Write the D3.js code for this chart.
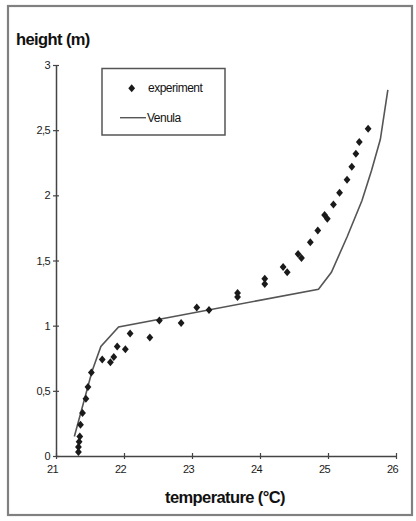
<!DOCTYPE html>
<html><head><meta charset="utf-8">
<script src="https://cdn.jsdelivr.net/npm/d3@7"></script>
<style>
html,body{margin:0;padding:0;background:#fff;}
svg{display:block;}
text{font-family:"Liberation Sans",Arial,sans-serif;}
</style></head>
<body><svg id="c" width="416" height="521"></svg>
<script>
// ---- data ----
const expTemp = [21.33,21.33,21.34,21.35,21.36,21.39,21.44,21.47,21.52,21.68,21.80,21.85,21.90,22.02,22.09,22.38,22.52,22.84,23.07,23.25,23.67,23.67,24.07,24.07,24.34,24.40,24.56,24.61,24.74,24.85,24.95,24.99,25.08,25.17,25.28,25.35,25.41,25.46,25.59];
const expHeight = [0.03,0.07,0.11,0.15,0.24,0.33,0.44,0.53,0.64,0.74,0.72,0.76,0.84,0.82,0.94,0.91,1.04,1.02,1.14,1.12,1.25,1.22,1.36,1.32,1.45,1.41,1.55,1.52,1.64,1.73,1.85,1.82,1.93,2.02,2.12,2.22,2.32,2.41,2.51];
const venTemp = [21.27,21.53,21.66,21.92,24.86,25.05,25.28,25.50,25.64,25.77,25.88];
const venHeight = [0.15,0.65,0.84,0.99,1.28,1.41,1.68,1.96,2.19,2.43,2.81];
const xTicks = [21,22,23,24,25,26];
const yTicks = [0,0.5,1,1.5,2,2.5,3];
const yTickLabels = ["0","0,5","1","1,5","2","2,5","3"];
const seriesNames = ["experiment","Venula"];
const xTitle = "temperature (°C)";
const yTitle = "height (m)";

const svg = d3.select("#c");
// outer frame
svg.append("rect").attr("x",8).attr("y",6).attr("width",404).attr("height",509)
  .attr("fill","#fff").attr("stroke","#808080").attr("stroke-width",2.2);

const x = d3.scaleLinear().domain([21,26]).range([56,396]);
const y = d3.scaleLinear().domain([0,3]).range([456,65]);
const axisColor = "#444";

// x axis
const gx = svg.append("g").attr("transform",`translate(0,${y(0)})`)
  .call(d3.axisBottom(x).tickValues(xTicks).tickSizeOuter(0).tickSizeInner(3).tickFormat(d3.format("d")));
gx.select(".domain").attr("stroke",axisColor).attr("stroke-width",1.5);
gx.selectAll(".tick line").attr("y1",-3).attr("y2",3).attr("stroke",axisColor).attr("stroke-width",1.2);
gx.selectAll(".tick text").attr("y",9).attr("dx",-4).attr("font-size",11).attr("fill","#1a1a1a")
  .attr("font-family","Liberation Sans, Arial, sans-serif").attr("letter-spacing",-0.6);

// y axis
const gy = svg.append("g").attr("transform",`translate(${x(21)},0)`)
  .call(d3.axisLeft(y).tickValues(yTicks).tickSizeOuter(0).tickSizeInner(3).tickFormat((d,i)=>yTickLabels[i]));
gy.select(".domain").attr("stroke",axisColor).attr("stroke-width",1.5);
gy.selectAll(".tick line").attr("x1",-3).attr("x2",3).attr("stroke",axisColor).attr("stroke-width",1.2);
gy.selectAll(".tick text").attr("x",-6).attr("font-size",11).attr("fill","#1a1a1a")
  .attr("font-family","Liberation Sans, Arial, sans-serif").attr("letter-spacing",-0.6);

// titles
svg.append("text").attr("x",16).attr("y",45).attr("font-size",16.5).attr("font-weight","bold")
  .attr("letter-spacing",-0.6).attr("fill","#111").text(yTitle);
svg.append("text").attr("x",225).attr("y",503).attr("text-anchor","middle").attr("font-size",16.5)
  .attr("font-weight","bold").attr("letter-spacing",-0.6).attr("fill","#111").text(xTitle);

// Venula line
const line = d3.line().x(d=>x(d[0])).y(d=>y(d[1]));
svg.append("path").datum(venTemp.map((t,i)=>[t,venHeight[i]]))
  .attr("d",line).attr("fill","none").attr("stroke","#555").attr("stroke-width",1.6);

// diamonds
const diamond = {draw(ctx,size){const w=3.4,h=4;ctx.moveTo(0,-h);ctx.lineTo(w,0);ctx.lineTo(0,h);ctx.lineTo(-w,0);ctx.closePath();}};
const sym = d3.symbol().type(diamond);
svg.append("g").selectAll("path").data(expTemp.map((t,i)=>[t,expHeight[i]])).join("path")
  .attr("d",sym).attr("transform",d=>`translate(${x(d[0])},${y(d[1])})`).attr("fill","#1a1a1a");

// legend
const lg = svg.append("g");
lg.append("rect").attr("x",102).attr("y",68.5).attr("width",123).attr("height",66.5)
  .attr("fill","#fff").attr("stroke","#555").attr("stroke-width",1.5);
lg.append("path").attr("d",sym).attr("transform","translate(131.7,88.3)").attr("fill","#1a1a1a");
lg.append("text").attr("x",148).attr("y",92).attr("font-size",12).attr("letter-spacing",-0.5).attr("fill","#111").text(seriesNames[0]);
lg.append("line").attr("x1",120).attr("x2",146).attr("y1",117.7).attr("y2",117.7).attr("stroke","#555").attr("stroke-width",1.4);
lg.append("text").attr("x",147).attr("y",122).attr("font-size",12).attr("letter-spacing",-0.5).attr("fill","#111").text(seriesNames[1]);
</script></body></html>
